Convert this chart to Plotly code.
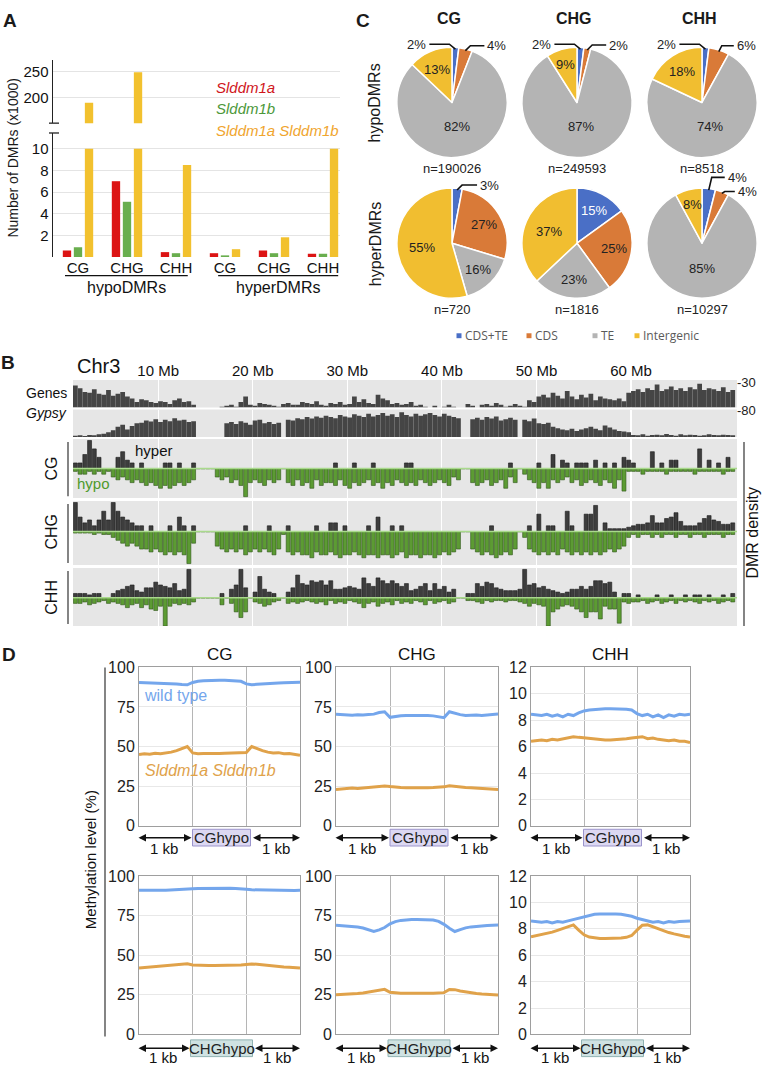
import plotly.graph_objects as go
import math

W, H = 762, 1073
FA = "Liberation Sans, Arial, Helvetica, sans-serif"
FN = "Liberation Sans Narrow, Arial Narrow, Liberation Sans, Arial, sans-serif"
FO = "Open Sans, DejaVu Sans, sans-serif"

# ======================= DATA =======================
# ---- Panel A: number of DMRs (x1000)
a_contexts = ["CG", "CHG", "CHH", "CG", "CHG", "CHH"]
a_groups = ["hypoDMRs", "hyperDMRs"]
a_ddm1a = [0.6, 7.0, 0.45, 0.35, 0.6, 0.3]
a_ddm1b = [0.9, 5.1, 0.35, 0.15, 0.35, 0.3]
a_double = [190.0, 249.6, 8.5, 0.72, 1.82, 10.3]
a_series = ["Slddm1a", "Slddm1b", "Slddm1a Slddm1b"]

# ---- Panel C: DMR annotation (%)
c_categories = ["CDS+TE", "CDS", "TE", "Intergenic"]
c_contexts = ["CG", "CHG", "CHH"]
c_hypo_CG = [2, 4, 82, 13]
c_hypo_CHG = [2, 2, 87, 9]
c_hypo_CHH = [2, 6, 74, 18]
c_hyper_CG = [3, 27, 16, 55]
c_hyper_CHG = [15, 25, 23, 37]
c_hyper_CHH = [4, 4, 85, 8]
c_hypo_n = [190026, 249593, 8518]
c_hyper_n = [720, 1816, 10297]

# ---- Panel B: Chr3 densities, 0.5 Mb bins starting at 1 Mb
b_start_mb = 1.0
b_bin_mb = 0.5
b_ticks_mb = [10, 20, 30, 40, 50, 60]
b_genes = [
    24, 21, 17, 16, 20, 15, 14, 19, 13, 15,
    17, 12, 10, 6, 9, 8, 6, 5, 7, 6,
    4, 8, 10, 6, 7, 3, 0, 0, 0, 0,
    0, 1, 2, 3, 1, 6, 12, 3, 2, 5,
    4, 3, 2, 1, 4, 5, 3, 3, 6, 5,
    4, 7, 3, 2, 5, 4, 6, 3, 4, 12,
    6, 9, 5, 4, 14, 10, 8, 4, 5, 3,
    4, 6, 2, 3, 1, 0, 2, 0, 1, 3,
    1, 0, 0, 4, 2, 0, 3, 4, 2, 5,
    3, 1, 2, 4, 2, 1, 8, 6, 12, 14,
    11, 16, 13, 10, 18, 12, 9, 14, 11, 15,
    8, 12, 10, 9, 8, 10, 7, 16, 18, 20,
    17, 21, 19, 25, 18, 20, 23, 19, 21, 18,
    22, 20, 26, 19, 21, 20, 18, 22, 17, 19]
b_gypsy = [
    4, 5, 3, 6, 5, 8, 10, 14, 20, 30,
    36, 22, 32, 40, 42, 48, 45, 52, 44, 50,
    46, 55, 48, 50, 44, 46, 0, 0, 0, 0,
    0, 0, 40, 44, 38, 46, 42, 36, 48, 50,
    40, 44, 38, 42, 0, 50, 48, 55, 52, 58,
    54, 60, 56, 62, 58, 55, 64, 60, 57, 66,
    62, 58, 68, 60, 64, 70, 62, 66, 58, 72,
    64, 60, 68, 62, 66, 70, 64, 60, 68, 62,
    58, 55, 0, 0, 52, 56, 50, 58, 54, 60,
    48, 52, 56, 50, 0, 50, 46, 54, 40, 38,
    42, 30, 26, 22, 20, 24, 18, 22, 26, 30,
    24, 20, 34, 28, 22, 18, 16, 14, 6, 5,
    8, 4, 6, 7, 5, 9, 6, 4, 8, 5,
    7, 6, 4, 5, 8, 6, 5, 7, 6, 5]
b_cg_hyper = [
    2, 2, 5, 10, 7, 4, 0, 0, 0, 4,
    6, 3, 2, 0, 2, 0, 0, 0, 0, 2,
    2, 0, 2, 0, 0, 2, 0, 0, 0, 0,
    0, 0, 0, 0, 0, 0, 0, 0, 0, 0,
    0, 0, 0, 0, 0, 0, 0, 0, 0, 0,
    0, 0, 0, 0, 0, 2, 0, 0, 0, 2,
    0, 0, 0, 2, 0, 0, 0, 0, 0, 0,
    2, 2, 0, 0, 0, 0, 0, 0, 0, 0,
    0, 0, 0, 0, 0, 0, 0, 0, 0, 0,
    0, 0, 2, 0, 0, 0, 0, 0, 2, 0,
    0, 5, 0, 3, 2, 0, 2, 2, 2, 0,
    3, 0, 2, 0, 2, 0, 4, 3, 2, 0,
    0, 0, 6, 0, 2, 0, 3, 3, 0, 0,
    0, 0, 7, 0, 3, 0, 2, 0, 4, 0]
b_cg_hypo = [
    1, 2, 2, 1, 2, 1, 2, 1, 3, 4,
    3, 4, 5, 4, 5, 6, 5, 6, 7, 6,
    7, 6, 5, 6, 5, 4, 0, 0, 0, 0,
    3, 4, 3, 5, 4, 6, 10, 5, 4, 5,
    6, 4, 5, 4, 0, 5, 6, 4, 6, 5,
    7, 4, 6, 5, 5, 6, 4, 6, 7, 5,
    6, 5, 4, 6, 5, 7, 5, 6, 4, 5,
    6, 5, 6, 4, 5, 6, 5, 4, 5, 6,
    3, 4, 0, 0, 5, 6, 5, 4, 6, 5,
    4, 7, 3, 5, 0, 2, 4, 5, 7, 5,
    7, 4, 5, 4, 3, 5, 4, 6, 5, 4,
    5, 6, 4, 5, 7, 4, 8, 1, 1, 1,
    2, 1, 1, 1, 1, 2, 1, 1, 1, 1,
    1, 2, 1, 1, 1, 1, 1, 2, 1, 1]
b_chg_hyper = [
    10, 5, 3, 4, 2, 4, 7, 4, 10, 7,
    5, 4, 3, 2, 2, 0, 2, 0, 0, 0,
    2, 0, 5, 2, 0, 2, 0, 0, 0, 0,
    0, 0, 0, 0, 0, 0, 2, 0, 0, 0,
    0, 2, 0, 0, 0, 2, 0, 0, 0, 0,
    0, 2, 0, 0, 3, 3, 0, 2, 0, 0,
    0, 0, 2, 0, 5, 0, 0, 2, 0, 2,
    0, 0, 0, 0, 0, 0, 0, 0, 0, 0,
    0, 0, 0, 0, 0, 0, 0, 0, 2, 0,
    0, 0, 0, 0, 0, 0, 2, 0, 6, 0,
    2, 2, 0, 0, 7, 2, 0, 0, 6, 6,
    9, 0, 3, 1, 1, 1, 1, 1.5, 2, 2.5,
    2.5, 3, 5.5, 3, 3, 4.5, 5, 6.5, 3.5, 2,
    2, 2, 3, 4.5, 5.5, 4, 3.5, 2.5, 2.5, 3]
b_chg_hypo = [
    0.5, 0.5, 0.5, 0.5, 1, 0.5, 1, 1, 2, 3,
    4, 5, 4, 5, 6, 6, 7, 6, 7, 8,
    7, 8, 7, 8, 11, 4, 0, 0, 0, 0,
    5, 6, 7, 6, 7, 6, 8, 7, 6, 7,
    6, 7, 8, 6, 1, 7, 8, 7, 8, 8,
    9, 7, 8, 8, 7, 8, 9, 8, 8, 7,
    8, 9, 8, 8, 9, 8, 8, 9, 8, 7,
    9, 8, 8, 9, 8, 8, 9, 8, 7, 8,
    7, 6, 0, 0, 6, 7, 8, 7, 8, 9,
    8, 7, 8, 6, 0, 2, 6, 7, 8, 7,
    8, 7, 8, 6, 7, 8, 7, 8, 7, 8,
    7, 8, 7, 6, 7, 6, 5, 2, 1, 2,
    1, 1, 2, 1, 2, 1, 1, 2, 1, 1,
    2, 1, 1, 2, 1, 1, 1, 2, 1, 1]
b_chh_hyper = [
    1.5, 1.5, 1.5, 1, 1.5, 1.5, 0, 0, 1.5, 2.5,
    3, 4, 4.5, 2.5, 2, 3.5, 3.5, 5.5, 4.5, 4,
    3.5, 5, 2.5, 3, 10, 0, 0, 0, 0, 0,
    0, 1.5, 0, 3, 4.5, 10, 3.5, 0, 2, 7.5,
    3, 2, 1.5, 0, 0, 2, 3.5, 8, 5, 4.5,
    6, 5.5, 6, 4.5, 6, 3, 3, 3.5, 4, 3.5,
    3, 7, 5, 4, 7, 6, 5, 6, 5, 4,
    5, 2.5, 3, 4, 5, 2.5, 5, 3, 4, 2,
    3, 0, 0, 1.5, 1.5, 5, 4, 5.5, 5, 3.5,
    3, 2.5, 2.5, 2.5, 3, 10, 4.5, 5, 3.5, 4,
    3, 2.5, 2, 1.5, 2, 3, 3, 4, 3, 4,
    6, 6, 5, 5.5, 2, 0, 1.5, 1.5, 0, 1,
    0, 0, 0, 1, 0, 0, 1, 0, 0, 1,
    0, 1, 1, 0, 1, 0, 0, 1, 0, 1.5]
b_chh_hypo = [
    2, 2, 1.5, 2.5, 2, 1.5, 1, 2, 1.5, 2,
    2.5, 3.5, 2.5, 2, 3.5, 2.5, 4, 4.5, 3, 10,
    3, 2, 2.5, 2, 2.5, 1.5, 0, 0, 0, 0,
    0, 2.5, 0, 2, 5, 7, 5, 0, 1.5, 2,
    3, 2.5, 1.5, 1, 0, 2, 1.5, 2, 1.5, 1,
    1.5, 2, 1.5, 2.5, 1, 2, 1.5, 2, 1, 1.5,
    2, 3.5, 2, 1.5, 3, 2, 1.5, 2.5, 1, 2,
    1.5, 2, 1, 1.5, 2.5, 1, 2, 1.5, 1, 2,
    1.5, 0, 0, 1, 1, 1.5, 2, 1, 1.5, 1,
    1, 1.5, 1, 1, 1.5, 2, 3, 2, 2.5, 3,
    10, 5, 4, 3, 2.5, 3, 4, 5, 7, 5,
    5, 7.5, 3, 4, 4, 9, 1.5, 2, 1.5, 1.5,
    1, 2, 1.5, 1, 2, 1.5, 1, 2, 1, 1.5,
    1, 1.5, 2, 1, 1.5, 1, 2, 1.5, 1, 1.5]

# ---- Panel D: methylation profiles (31 bins: 1 kb up | DMR | 1 kb down)
d_contexts = ["CG", "CHG", "CHH"]
d_wt_cghypo_CG = [90.5, 90.4, 90.3, 90.3, 90.2, 90.0, 89.8, 89.5, 89.2, 89.0, 90.5, 91.3, 91.6, 91.8, 91.9, 91.9,
                  91.9, 91.8, 91.6, 91.2, 89.6, 89.0, 89.3, 89.6, 89.8, 90.0, 90.2, 90.3, 90.4, 90.5, 90.6]
d_mu_cghypo_CG = [45.0, 45.5, 45.2, 45.8, 45.5, 46.0, 46.5, 47.5, 49.0, 50.0, 46.0, 45.5, 45.6, 45.5, 45.6, 45.7,
                  45.8, 45.9, 46.0, 46.1, 46.3, 50.0, 48.5, 47.5, 46.5, 46.0, 46.2, 45.5, 45.7, 45.0, 44.6]
d_wt_cghypo_CHG = [70.5, 70.3, 70.0, 69.8, 70.1, 69.9, 70.2, 70.5, 71.5, 72.0, 68.5, 69.2, 69.5, 69.6, 69.7, 69.7,
                   69.7, 69.6, 69.4, 69.0, 68.3, 72.0, 71.0, 70.2, 69.6, 69.8, 70.0, 69.7, 70.0, 70.3, 70.6]
d_mu_cghypo_CHG = [23.0, 23.3, 23.5, 23.8, 23.6, 24.0, 24.2, 24.5, 24.8, 25.2, 24.8, 24.3, 24.2, 24.1, 24.0, 24.0,
                   24.0, 24.1, 24.2, 24.3, 24.6, 25.3, 24.8, 24.5, 24.2, 24.0, 23.8, 23.6, 23.4, 23.2, 23.0]
d_wt_cghypo_CHH = [8.45, 8.40, 8.35, 8.45, 8.30, 8.40, 8.25, 8.45, 8.35, 8.55, 8.70, 8.78, 8.82, 8.85, 8.86, 8.86,
                   8.86, 8.85, 8.83, 8.78, 8.50, 8.35, 8.45, 8.25, 8.40, 8.20, 8.40, 8.30, 8.45, 8.40, 8.45]
d_mu_cghypo_CHH = [6.40, 6.45, 6.50, 6.45, 6.55, 6.50, 6.60, 6.65, 6.75, 6.70, 6.65, 6.60, 6.55, 6.52, 6.50, 6.50,
                   6.52, 6.55, 6.60, 6.65, 6.70, 6.75, 6.60, 6.65, 6.55, 6.50, 6.45, 6.50, 6.40, 6.40, 6.30]
d_wt_chghypo_CG = [91.0, 90.9, 90.8, 90.9, 91.0, 91.0, 91.1, 91.2, 91.3, 91.5, 91.9, 92.1, 92.2, 92.3, 92.3, 92.3,
                   92.3, 92.3, 92.2, 92.1, 91.6, 91.3, 91.2, 91.1, 91.0, 91.0, 90.9, 90.9, 90.8, 90.9, 91.0]
d_mu_chghypo_CG = [42.0, 42.3, 42.6, 42.9, 43.2, 43.4, 43.6, 43.9, 44.3, 44.6, 43.9, 43.7, 43.6, 43.6, 43.6, 43.6,
                   43.6, 43.6, 43.7, 43.9, 44.2, 44.5, 44.3, 43.9, 43.5, 43.2, 42.9, 42.6, 42.4, 42.1, 41.9]
d_wt_chghypo_CHG = [69.0, 68.8, 68.6, 68.2, 67.8, 67.2, 66.2, 65.0, 66.0, 67.5, 69.8, 71.2, 72.0, 72.4, 72.6, 72.6,
                    72.6, 72.5, 72.2, 71.4, 69.5, 67.0, 65.0, 66.2, 67.3, 67.9, 68.3, 68.6, 68.8, 69.0, 69.1]
d_mu_chghypo_CHG = [25.0, 25.1, 25.3, 25.5, 25.8, 26.2, 26.8, 27.5, 28.3, 28.5, 26.6, 26.2, 26.0, 26.0, 25.9, 25.9,
                    25.9, 26.0, 26.0, 26.1, 26.4, 28.4, 28.3, 27.5, 26.8, 26.2, 25.8, 25.5, 25.3, 25.1, 24.9]
d_wt_chghypo_CHH = [8.60, 8.55, 8.50, 8.55, 8.45, 8.55, 8.50, 8.60, 8.70, 8.80, 8.95, 9.05, 9.10, 9.12, 9.13, 9.13,
                    9.12, 9.10, 9.05, 8.95, 8.80, 8.70, 8.60, 8.50, 8.55, 8.45, 8.55, 8.50, 8.55, 8.60, 8.60]
d_mu_chghypo_CHH = [7.40, 7.48, 7.56, 7.65, 7.75, 7.88, 8.02, 8.20, 8.30, 7.90, 7.55, 7.38, 7.30, 7.27, 7.26, 7.26,
                    7.27, 7.30, 7.36, 7.50, 7.90, 8.28, 8.30, 8.15, 7.98, 7.85, 7.72, 7.62, 7.52, 7.44, 7.38]
d_ymax = [100, 100, 12]
d_yticks = [[0, 25, 50, 75, 100], [0, 25, 50, 75, 100], [0, 2, 4, 6, 8, 10, 12]]
d_region_labels = ["CGhypo", "CHGhypo"]

# ======================= HELPERS =======================
def X(px):
    return px / W


def Y(py):
    return 1 - py / H


layout = dict(width=W, height=H, margin=dict(l=0, r=0, t=0, b=0), paper_bgcolor="white",
              plot_bgcolor="rgba(0,0,0,0)", showlegend=False, barmode="overlay")
traces, anns, shapes = [], [], []
_n = [0]


def axes(x0, x1, ytop, ybot, xr, yr, xo=None, yo=None):
    _n[0] += 1
    s = "" if _n[0] == 1 else str(_n[0])
    base = dict(zeroline=False, showticklabels=False, ticks="", showline=False, showgrid=False, fixedrange=True)
    xa = dict(base, domain=[X(x0), X(x1)], range=xr, anchor="y" + s)
    ya = dict(base, domain=[Y(ybot), Y(ytop)], range=yr, anchor="x" + s)
    if xo:
        xa.update(xo)
    if yo:
        ya.update(yo)
    layout["xaxis" + s] = xa
    layout["yaxis" + s] = ya
    return "x" + s, "y" + s


def ann(px, py, text, size=13, color="#1a1a1a", family=FA, xa="center", ya="middle", angle=0):
    anns.append(dict(x=X(px), y=Y(py), xref="paper", yref="paper", text=text, showarrow=False,
                     font=dict(size=size, color=color, family=family), xanchor=xa, yanchor=ya,
                     textangle=angle, borderpad=0))


def pline(x0, y0, x1, y1, color="#111", width=1.2):
    shapes.append(dict(type="line", xref="paper", yref="paper", x0=X(x0), y0=Y(y0), x1=X(x1), y1=Y(y1),
                       line=dict(color=color, width=width)))


# ======================= PANEL A =======================
RED, GREEN, YEL = "#dc1414", "#69ae4e", "#f2c12e"
a_unit = 49.0
a_x0_px, a_x1_px, a_c0 = 53, 340, 78
a_xr = [(a_x0_px - a_c0) / a_unit, (a_x1_px - a_c0) / a_unit]
tf = dict(size=15, family=FA, color="#111")
xl, yl = axes(53, 340, 127, 253, a_xr, [0, 126 / 11.0],
              xo=dict(showticklabels=True, tickvals=list(range(6)), ticktext=a_contexts, tickfont=tf),
              yo=dict(showticklabels=True, tickvals=[2, 4, 6, 8, 10], showgrid=True, gridcolor="#e4e4e4",
                      showline=True, linecolor="#222", linewidth=1.5, tickfont=tf))
xh, yh = axes(53, 340, 53, 117, a_xr, [150, 150 + 64 * 50 / 26.0],
              yo=dict(showticklabels=True, tickvals=[150, 200, 250], ticktext=["", "200", "250"], showgrid=True,
                      gridcolor="#e4e4e4", showline=True, linecolor="#222", linewidth=1.5, tickfont=tf))
xpos = list(range(len(a_contexts)))
bw = 0.17
for vals, col, off in [(a_ddm1a, RED, -0.31), (a_ddm1b, GREEN, -0.085),
                       ([min(v, 10) for v in a_double], YEL, 0.14)]:
    traces.append(go.Bar(x=xpos, y=vals, width=bw, offset=off, marker=dict(color=col, line=dict(width=0)),
                         xaxis=xl, yaxis=yl, hoverinfo="skip"))
traces.append(go.Bar(x=xpos, y=a_double, width=bw, offset=0.14, marker=dict(color=YEL, line=dict(width=0)),
                     xaxis=xh, yaxis=yh, hoverinfo="skip"))
for yy in (117, 127):
    pline(49, yy, 59, yy, "#222", 1.3)
for (g0, g1), name in zip([(-0.265, 2.24), (2.86, 5.31)], a_groups):
    shapes.append(dict(type="line", xref=xl, yref="paper", x0=g0, x1=g1, y0=Y(272), y1=Y(272),
                       line=dict(color="#111", width=1.2)))
    anns.append(dict(x=(g0 + g1) / 2, y=Y(284), xref=xl, yref="paper", text=name, showarrow=False,
                     font=dict(size=16, family=FA, color="#111"), xanchor="center", yanchor="middle"))
ann(13, 152, "Number of DMRs (x1000)", 14, angle=-90)
for name, col, yy in zip(a_series, ["#d0161c", "#4c983a", "#f0a52e"], [81, 102, 124]):
    ann(215, yy, "<i>%s</i>" % name, 15, col, xa="left")
ann(10, 13, "<b>A</b>", 19)

# ======================= PANEL C =======================
c_colors = ["#4a6fc6", "#d97a38", "#b4b4b4", "#f1be30"]
c_cx = [452, 577, 702]
c_cy = [96, 239]
c_r = 56
c_rows = [[c_hypo_CG, c_hypo_CHG, c_hypo_CHH], [c_hyper_CG, c_hyper_CHG, c_hyper_CHH]]
c_ns = [c_hypo_n, c_hyper_n]
# leader-line label settings: slice index -> (direction, dx, rise, run)
c_leaders = {(0, 0): {0: (-1, 6, 5, 20), 1: (1, 5, 5, 14)},
             (0, 1): {0: (-1, 6, 5, 20), 1: (1, 5, 5, 14)},
             (0, 2): {0: (-1, 6, 5, 20), 1: (1, 3, 6, 12)},
             (1, 0): {0: (1, 5, 5, 15)},
             (1, 1): {},
             (1, 2): {0: (1, 3, 13, 13), 1: (1, 3, 2, 10)}}

for ri, row in enumerate(c_rows):
    for ci, vals in enumerate(row):
        cx, cy = c_cx[ci], c_cy[ri]
        traces.append(go.Pie(values=vals, labels=c_categories, sort=False, direction="clockwise", rotation=0,
                             textinfo="none", hoverinfo="skip",
                             marker=dict(colors=c_colors, line=dict(color="white", width=1.5)),
                             domain=dict(x=[X(cx - c_r), X(cx + c_r)], y=[Y(cy + c_r), Y(cy - c_r)])))
        tot = float(sum(vals))
        leaders = c_leaders[(ri, ci)]
        for i, v in enumerate(vals):
            mid = (sum(vals[:i]) + v / 2.0) / tot * 2 * math.pi
            if i in leaders:
                d, dx, rise, run = leaders[i]
                px = cx + 0.97 * c_r * math.sin(mid)
                py = cy - 0.97 * c_r * math.cos(mid)
                qx, qy = px + d * dx, py - rise
                rx = qx + d * run
                shapes.append(dict(type="path", xref="paper", yref="paper",
                                   path="M %f %f L %f %f L %f %f" % (X(px), Y(py), X(qx), Y(qy), X(rx), Y(qy)),
                                   line=dict(color="#111", width=1.6)))
                ann(rx + 2 * d, qy, "%d%%" % v, 13, "#222", xa="left" if d > 0 else "right")
            else:
                f = 0.45 if v >= 70 else (0.55 if v >= 30 else (0.66 if v >= 12 else 0.72))
                tx = cx + f * c_r * math.sin(mid)
                ty = cy - f * c_r * math.cos(mid)
                ann(tx, ty, "%d%%" % v, 13, "white" if i == 0 else "#222")
        ann(cx, cy + 67, "n=%d" % c_ns[ri][ci], 13, "#222")
for cx, name in zip(c_cx, c_contexts):
    ann(cx - 3, 11, "<b>%s</b>" % name, 16)
ann(374, 97, "hypoDMRs", 16, angle=-90)
ann(375, 240, "hyperDMRs", 16, angle=-90)
ann(363, 13, "<b>C</b>", 19)
for lx, name, col in zip([459, 529, 595, 637], c_categories, c_colors):
    shapes.append(dict(type="rect", xref="paper", yref="paper", x0=X(lx - 2.5), x1=X(lx + 2.5),
                       y0=Y(335.5), y1=Y(330.5), fillcolor=col, line=dict(width=0)))
    ann(lx + 5, 333, name, 12, "#5a5a5a", FO, xa="left")

# ======================= PANEL B =======================
nb = len(b_genes)
b_x = [b_start_mb + b_bin_mb * (i + 0.5) for i in range(nb)]
b_xr = [b_start_mb, 71.2]
B_X0, B_X1 = 73, 737
TRACKBG = "#e6e6e6"
gx = dict(showgrid=True, gridcolor="white", gridwidth=1.2, tickvals=b_ticks_mb)


def track(ytop, ybot, yr, first=False):
    xo = dict(gx)
    if first:
        xo.update(showticklabels=True, side="top", ticktext=["%d Mb" % t for t in b_ticks_mb],
                  tickfont=dict(size=15, family=FN, color="#111"))
    xa, ya = axes(B_X0, B_X1, ytop, ybot, b_xr, yr, xo=xo)
    shapes.append(dict(type="rect", xref=xa + " domain", yref=ya + " domain", x0=0, x1=1, y0=0, y1=1,
                       fillcolor=TRACKBG, line=dict(width=0), layer="below"))
    return xa, ya


xa, ya = track(378, 406, [0, 30], first=True)
traces.append(go.Bar(x=b_x, y=b_genes, width=b_bin_mb, marker=dict(color="#454545", line=dict(width=0)),
                     xaxis=xa, yaxis=ya, hoverinfo="skip"))
xa, ya = track(408, 436, [0, 80])
traces.append(go.Bar(x=b_x, y=b_gypsy, width=b_bin_mb, marker=dict(color="#454545", line=dict(width=0)),
                     xaxis=xa, yaxis=ya, hoverinfo="skip"))
dmr_tracks = [("CG", 438, 498, [-10.5, 10.5], b_cg_hyper, b_cg_hypo),
              ("CHG", 501, 566, [-11.5, 10.5], b_chg_hyper, b_chg_hypo),
              ("CHH", 569, 628, [-10.0, 10.5], b_chh_hyper, b_chh_hypo)]
for name, yt, yb, yr, hyper, hypo in dmr_tracks:
    xa, ya = track(yt, yb, yr)
    traces.append(go.Bar(x=b_x, y=hyper, width=0.42,
                         marker=dict(color="#3d3d3d", line=dict(color="#1a1a1a", width=0.6)),
                         xaxis=xa, yaxis=ya, hoverinfo="skip"))
    traces.append(go.Bar(x=b_x, y=[-v for v in hypo], width=0.42,
                         marker=dict(color="#5c9b33", line=dict(color="#2d5418", width=0.6)),
                         xaxis=xa, yaxis=ya, hoverinfo="skip"))
    shapes.append(dict(type="line", xref=xa + " domain", yref=ya, x0=0, x1=1, y0=0, y1=0,
                       line=dict(color="#a9d98c", width=1.5)))
    base_py = yt + (yb - yt) * yr[1] / (yr[1] - yr[0])
    ann(52, base_py, name, 16, "#111", FA, angle=-90)
    pline(68, yt + 3, 68, yb - 2, "#333", 1.2)
ann(8, 360, "<b>B</b>", 19)
ann(76, 364, "Chr3", 20, "#111", FN, xa="left")
ann(68, 391, "Genes", 14, "#111", FN, xa="right")
ann(68, 412, "<i>Gypsy</i>", 14, "#111", FN, xa="right")
ann(736, 381, "-30", 13, "#222", FN, xa="left")
ann(736, 409, "-80", 13, "#222", FN, xa="left")
ann(134, 450, "hyper", 15, "#111", FN, xa="left")
ann(76, 483, "hypo", 15, "#4f9a2c", FN, xa="left")
ann(753, 533, "DMR density", 16, "#111", FA, angle=-90)
pline(744, 441, 744, 628, "#333", 1.2)

# ======================= PANEL D =======================
WT_C, MU_C = "#74a6ec", "#e0a24a"
d_x0 = [139, 336, 531]
d_x1 = [300, 498, 690]
d_rows = [(670, 831, [(d_wt_cghypo_CG, d_mu_cghypo_CG), (d_wt_cghypo_CHG, d_mu_cghypo_CHG),
                      (d_wt_cghypo_CHH, d_mu_cghypo_CHH)], "#dcd8f2", "#9b94cc", 843, 854, 29),
          (882, 1043, [(d_wt_chghypo_CG, d_mu_chghypo_CG), (d_wt_chghypo_CHG, d_mu_chghypo_CHG),
                       (d_wt_chghypo_CHH, d_mu_chghypo_CHH)], "#cfe2e2", "#8fb3b3", 1057, 1066, 31)]
for ri, (yt, yb, series, boxfill, boxline, yarrow, ykb, bhw) in enumerate(d_rows):
    for ci in range(3):
        wt, mu = series[ci]
        nx = len(wt)
        xa, ya = axes(d_x0[ci], d_x1[ci], yt, yb, [0, nx - 1], [0, d_ymax[ci]],
                      xo=dict(tickvals=[(nx - 1) / 3.0, 2 * (nx - 1) / 3.0], showgrid=True, gridcolor="#b5b5b5",
                              gridwidth=1, showline=True, mirror=True, linecolor="#9e9e9e", linewidth=1),
                      yo=dict(tickvals=d_yticks[ci], showgrid=True, gridcolor="#e8e8e8", showline=True,
                              mirror=True, linecolor="#9e9e9e", linewidth=1, showticklabels=True,
                              tickfont=dict(size=16, family=FN, color="#222")))
        xs = list(range(nx))
        traces.append(go.Scatter(x=xs, y=wt, mode="lines", line=dict(color=WT_C, width=3), xaxis=xa, yaxis=ya,
                                 hoverinfo="skip"))
        traces.append(go.Scatter(x=xs, y=mu, mode="lines", line=dict(color=MU_C, width=3), xaxis=xa, yaxis=ya,
                                 hoverinfo="skip"))
        cxp = (d_x0[ci] + d_x1[ci]) / 2.0 + 2
        bx0, bx1 = cxp - bhw, cxp + bhw
        shapes.append(dict(type="rect", xref="paper", yref="paper", x0=X(bx0), x1=X(bx1), y0=Y(yarrow + 8.5),
                           y1=Y(yarrow - 8.5), fillcolor=boxfill, line=dict(color=boxline, width=1)))
        ann(cxp, yarrow, d_region_labels[ri], 15, "#222", FN)
        for ax0, ax1 in [(d_x0[ci] - 2, bx0 - 1), (bx1 + 1, d_x1[ci])]:
            anns.append(dict(x=X(ax1), y=Y(yarrow), ax=ax0 - ax1, ay=0, xref="paper", yref="paper",
                             axref="pixel", ayref="pixel", text="", showarrow=True, arrowhead=2,
                             arrowside="end+start", arrowsize=1, arrowwidth=1.5, arrowcolor="#111",
                             standoff=0, startstandoff=0))
            ann((ax0 + ax1) / 2.0, ykb, "1 kb", 15, "#111", FN)
for ci, name in enumerate(d_contexts):
    ann((d_x0[ci] + d_x1[ci]) / 2.0, 657, name, 17, "#111", FN)
ann(143, 699, "wild type", 16, WT_C, FN, xa="left")
ann(144, 775, "<i>Slddm1a Slddm1b</i>", 16, MU_C, FN, xa="left")
ann(90, 866, "Methylation level (%)", 15, "#111", FA, angle=-90)
pline(105, 670, 105, 1045, "#333", 1.2)
ann(9, 657, "<b>D</b>", 19)

layout["annotations"] = anns
layout["shapes"] = shapes
fig = go.Figure(data=traces, layout=layout)
fig.write_html("out.html", config={"displayModeBar": False, "staticPlot": True},
               post_script="document.body.style.margin='0px';document.body.style.padding='0px';"
                           "document.body.style.overflow='hidden';")
